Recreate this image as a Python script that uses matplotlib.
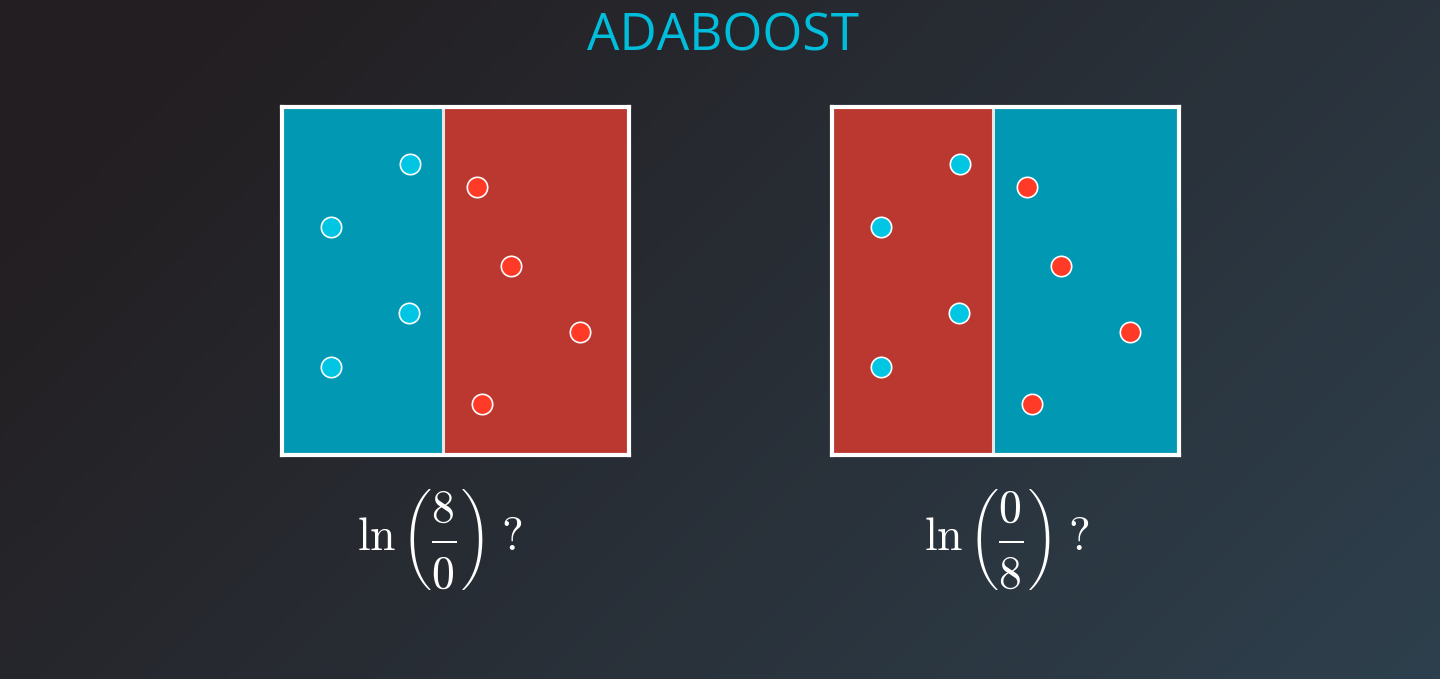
"""AdaBoost weak learner illustration: two split classifiers and their log ratios."""

import numpy as np
import matplotlib.pyplot as plt

plt.rcParams["mathtext.fontset"] = "cm"

# Points in panel units (0..10 on both axes)
blue_x = [3.70, 1.40, 3.67, 1.40]
blue_y = [8.37, 6.54, 4.09, 2.54]
red_x = [5.62, 6.59, 8.60, 5.76]
red_y = [7.69, 5.43, 3.54, 1.46]
split_x = 4.64

# Region colours left/right of the split for each panel
panel_regions = [("teal", "red"), ("red", "teal")]
fractions = [("8", "0"), ("0", "8")]

TEAL = "#0098b3"
RED = "#ba3830"
POINT_BLUE = "#00c6e4"
POINT_RED = "#ff3a27"
region_color = {"teal": TEAL, "red": RED}

W, H = 1440, 679
fig = plt.figure(figsize=(W / 100, H / 100), dpi=100)

# diagonal background gradient
bg = fig.add_axes([0, 0, 1, 1])
c_tl = np.array([0x23, 0x1e, 0x21]) / 255
c_br = np.array([0x2e, 0x40, 0x4d]) / 255
yy, xx = np.mgrid[0:1:200j, 0:1:400j]
t = (xx * 0.68 + yy * 0.32)[..., None]
t = np.clip((t - 0.1) / 0.9, 0, 1)
bg.imshow(c_tl * (1 - t) + c_br * t, aspect="auto", extent=[0, 1, 0, 1], origin="upper")
bg.set_axis_off()

fig.text(723 / W, 1 - 37 / H, "ADABOOST", ha="center", va="center",
         color="#00bedb", fontsize=37, family="Open Sans")

panel_left = [282, 832]
panel_w, panel_h = 347, 348
panel_top = 107
text_x = [440, 1007]

for i in range(2):
    ax = fig.add_axes([panel_left[i] / W, 1 - (panel_top + panel_h) / H, panel_w / W, panel_h / H])
    ax.set_xlim(0, 10)
    ax.set_ylim(0, 10)
    left_c, right_c = panel_regions[i]
    ax.axvspan(0, split_x, color=region_color[left_c], lw=0)
    ax.axvspan(split_x, 10, color=region_color[right_c], lw=0)
    ax.axvline(split_x, color="#e6e6e6", lw=2.2)
    ax.scatter(blue_x, blue_y, s=215, color=POINT_BLUE, edgecolor="white", linewidth=1.2, zorder=3)
    ax.scatter(red_x, red_y, s=215, color=POINT_RED, edgecolor="white", linewidth=1.2, zorder=3)
    ax.set_xticks([])
    ax.set_yticks([])
    for sp in ax.spines.values():
        sp.set_color("white")
        sp.set_linewidth(3)

    num, den = fractions[i]
    formula = r"$\ln\left(\dfrac{\underset{\ }{%s}}{\overset{\ }{%s}}\right)\;?$" % (num, den)
    fig.text(text_x[i] / W, 1 - 540 / H, formula, ha="center", va="center",
             color="white", fontsize=33)

fig.savefig("out.png", dpi=100)
